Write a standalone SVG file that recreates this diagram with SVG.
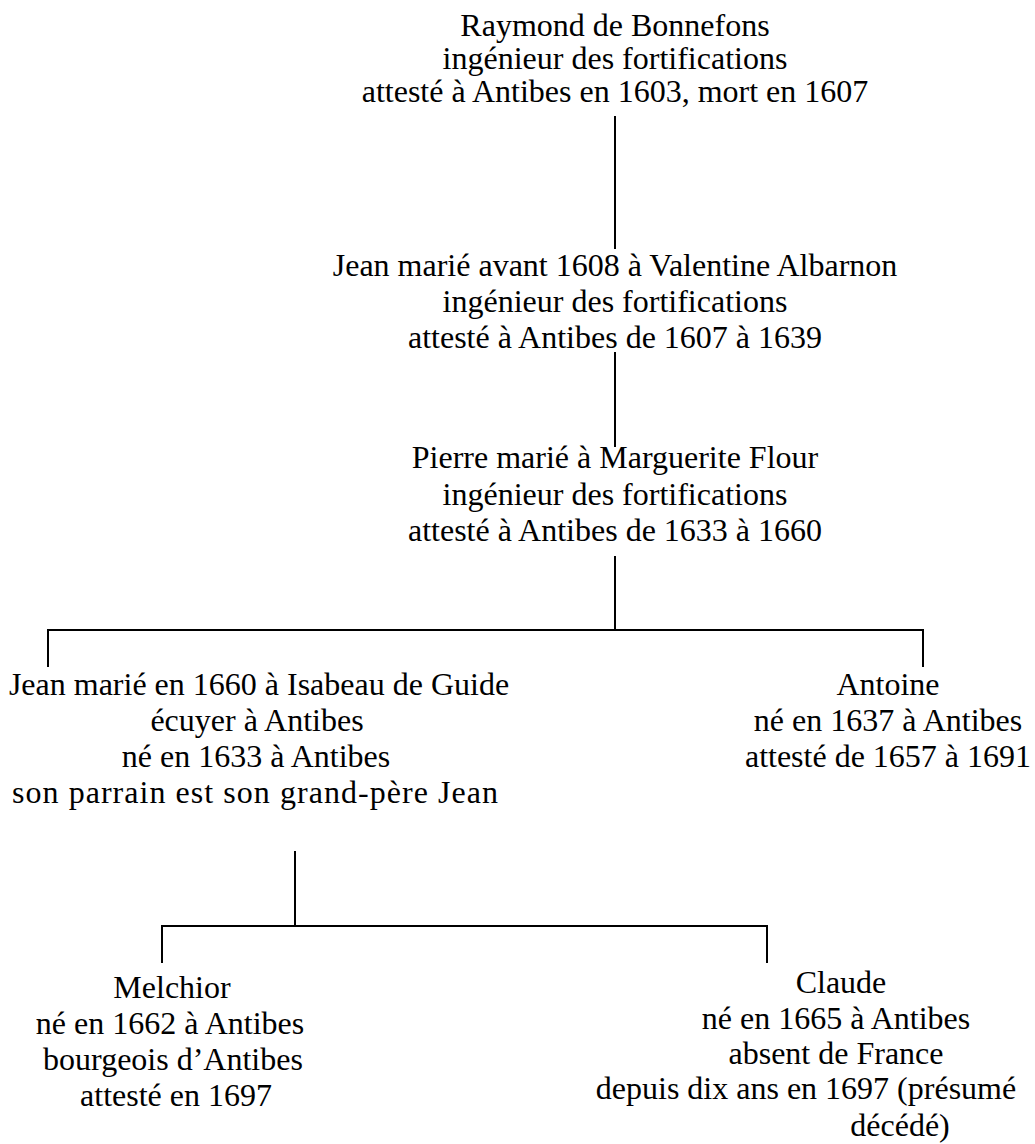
<svg xmlns="http://www.w3.org/2000/svg" width="1035" height="1144" viewBox="0 0 1035 1144">
<style>
text{font-family:"Liberation Serif","Times New Roman",serif;font-size:32px;fill:#000;text-anchor:middle}
.c{stroke:#000;stroke-width:2;fill:none}
</style>
<rect width="1035" height="1144" fill="#fff"/>
<g id="connectors">
<path class="c" d="M615,116V249"/>
<path class="c" d="M615,352V447"/>
<path class="c" d="M615,556V630"/>
<path class="c" d="M48,667V630H923V667"/>
<path class="c" d="M295,851V926"/>
<path class="c" d="M162,963V926H767V963"/>
</g>
<g id="raymond">
<text x="615" y="36">Raymond de Bonnefons</text>
<text x="615" y="69">ingénieur des fortifications</text>
<text x="615" y="102">attesté à Antibes en 1603, mort en 1607</text>
</g>
<g id="jean1">
<text x="615" y="276">Jean marié avant 1608 à Valentine Albarnon</text>
<text x="615" y="312">ingénieur des fortifications</text>
<text x="615" y="348">attesté à Antibes de 1607 à 1639</text>
</g>
<g id="pierre">
<text x="615" y="468">Pierre marié à Marguerite Flour</text>
<text x="615" y="505">ingénieur des fortifications</text>
<text x="615" y="541">attesté à Antibes de 1633 à 1660</text>
</g>
<g id="jean2">
<text x="259" y="695">Jean marié en 1660 à Isabeau de Guide</text>
<text x="257" y="731">écuyer à Antibes</text>
<text x="256" y="767">né en 1633 à Antibes</text>
<text x="255" y="803" textLength="486" lengthAdjust="spacing">son parrain est son grand-père Jean</text>
</g>
<g id="antoine">
<text x="888" y="695">Antoine</text>
<text x="888" y="731">né en 1637 à Antibes</text>
<text x="888" y="767">attesté de 1657 à 1691</text>
</g>
<g id="melchior">
<text x="172" y="998">Melchior</text>
<text x="170" y="1034">né en 1662 à Antibes</text>
<text x="173" y="1070">bourgeois d’Antibes</text>
<text x="176" y="1106">attesté en 1697</text>
</g>
<g id="claude">
<text x="841" y="993">Claude</text>
<text x="836" y="1029">né en 1665 à Antibes</text>
<text x="836" y="1064">absent de France</text>
<text x="806" y="1099">depuis dix ans en 1697 (présumé</text>
<text x="900" y="1136">décédé)</text>
</g>
</svg>
